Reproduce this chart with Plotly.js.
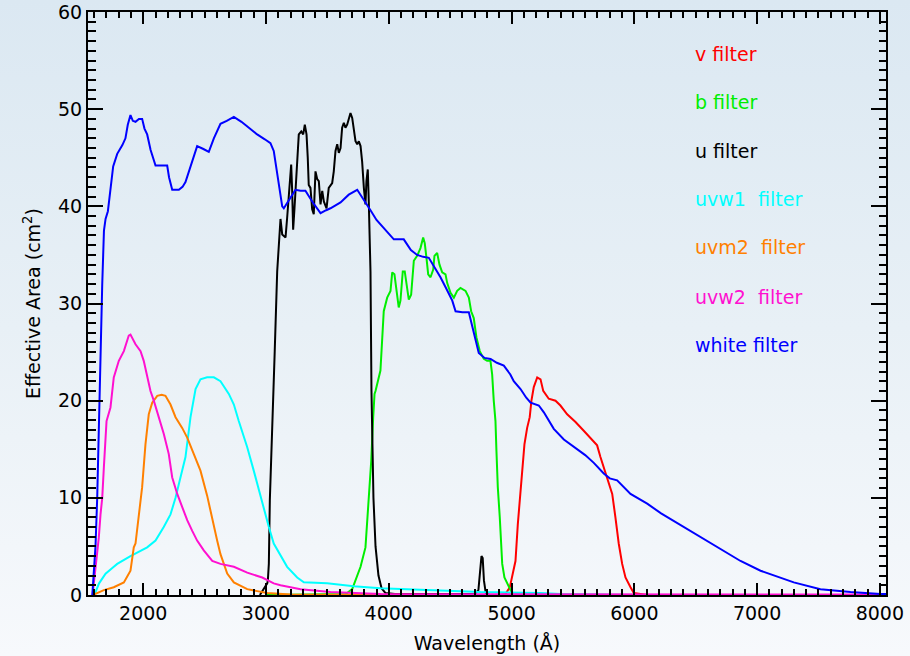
<!DOCTYPE html>
<html>
<head>
<meta charset="utf-8">
<script src="https://cdn.plot.ly/plotly-3.0.1.min.js"></script>
<style>
html,body{margin:0;padding:0;}
body{width:910px;height:656px;background:linear-gradient(to bottom,#dbe8f2 0%,#e8f0f6 50%,#f7f9fc 100%);}
#chart{width:910px;height:656px;}
.modebar-container,.modebar{display:none !important;}
</style>
</head>
<body>
<div id="chart"></div>
<script>
// ---- data (wavelength in Angstrom, effective area in cm^2) ----
const whiteWave = [1585,1597,1611,1625,1638,1652,1666,1680,1693,1712,1733,1755,1788,1830,1855,1874,1896,1915,1937,1965,1991,2010,2032,2060,2100,2150,2195,2210,2236,2290,2320,2344,2370,2399,2439,2490,2534,2575,2629,2680,2738,2800,2847,2928,2990,3036,3063,3091,3118,3132,3145,3170,3199,3240,3281,3321,3376,3444,3490,3525,3607,3674,3743,3780,3810,3851,3900,3959,4028,4041,4122,4180,4231,4280,4326,4370,4421,4470,4517,4544,4600,4652,4693,4733,4780,4829,4880,4937,4990,5018,5073,5120,5155,5190,5222,5263,5300,5344,5426,5535,5600,5670,5751,5800,5860,5969,6105,6218,6400,6600,6865,7028,7299,7516,7761,8005,8050];
const whiteArea = [0,2.8,5,10,17.9,25,32,37.5,38.7,39.5,41.9,44.1,45.4,46.3,47.0,48.4,49.4,48.8,48.7,49.0,49.0,48.0,47.4,45.8,44.2,44.2,44.2,43.0,41.7,41.7,42.0,42.5,43.5,44.7,46.2,45.9,45.6,47.0,48.5,48.8,49.2,48.7,48.2,47.4,46.9,46.5,45.7,43.3,41.2,40.0,39.8,40.3,40.9,41.7,41.6,41.6,40.5,39.3,39.6,39.8,40.4,41.2,41.7,41.0,40.5,39.6,38.6,37.8,36.8,36.6,36.6,35.5,35.0,34.8,34.7,33.8,32.7,31.5,30.3,29.2,29.1,29.1,26.8,24.9,24.4,24.3,23.9,23.6,22.7,22.0,21.2,20.3,19.8,19.6,19.5,18.8,18.0,17.1,16.0,15.0,14.4,13.6,12.5,12.0,11.8,10.4,9.4,8.4,7.0,5.5,3.5,2.5,1.3,0.6,0.3,0.1,0.1];

const uWave = [2950,3010,3015,3023,3031,3042,3050,3058,3071,3091,3104,3118,3132,3159,3172,3194,3205,3213,3221,3232,3240,3254,3267,3287,3303,3316,3330,3340,3348,3362,3376,3389,3403,3417,3430,3444,3458,3471,3493,3511,3539,3552,3566,3580,3593,3607,3620,3634,3647,3661,3674,3688,3702,3715,3729,3743,3756,3770,3783,3797,3810,3818,3829,3837,3845,3851,3859,3875,3892,3916,3941,3973,4050,4300,4600,4700,4730,4745,4755,4765,4775,4790,4820,5000];
const uArea = [0,1.2,1.5,3.2,9.7,14.5,18.3,22.0,25.1,33.3,35.7,38.7,37.1,36.8,38.8,42.8,44.3,41.6,37.6,39.8,41.6,45.3,47.4,47.7,47.4,48.4,47.4,45.0,42.2,41.9,39.7,39.2,43.6,42.8,42.6,40.2,41.6,40.5,39.8,41.9,42.4,43.6,45.7,46.4,45.5,46.0,48.1,48.6,48.1,48.4,48.9,49.6,49.1,47.9,46.7,46.4,46.7,46.2,44.6,41.9,40.2,42.6,43.8,40.5,37.5,33.3,21,10,5,2,0.7,0.2,0.1,0.1,0.1,0.1,0.5,2.5,4.0,3.8,1.5,0.2,0,0];

const bWave = [3000,3650,3702,3770,3810,3824,3837,3857,3873,3884,3892,3932,3959,3987,4014,4028,4046,4068,4081,4095,4114,4130,4150,4163,4182,4204,4231,4258,4280,4293,4307,4321,4340,4362,4372,4394,4413,4435,4462,4476,4503,4530,4557,4584,4625,4652,4671,4692,4714,4741,4774,4801,4828,4842,4855,4869,4877,4888,4904,4915,4924,4942,4977,5007,5100];
const bArea = [0,0.1,0.6,2.9,4.9,7.3,10.4,13.8,18.3,20.7,21.0,23.1,29.2,30.6,31.3,33.2,33.0,30.6,29.6,30.3,33.3,33.3,31.3,30.4,30.9,34.4,34.9,35.7,36.8,36.2,34.7,33.0,32.7,33.5,34.9,35.2,34.0,33.2,33.0,32.1,31.1,30.6,31.3,31.6,31.3,30.6,29.2,28.5,26.5,25.1,24.3,24.1,24.1,22.7,20.0,17.9,14.8,11.1,8.0,5.9,3.2,1.8,0.8,0.1,0];

const vWave = [4900,4950,4986,5005,5032,5051,5067,5087,5105,5127,5148,5162,5181,5209,5236,5258,5284,5303,5358,5398,5453,5521,5588,5657,5697,5724,5751,5779,5820,5846,5873,5901,5928,5969,5996,6105];
const vArea = [0,0.1,0.8,1.8,3.5,7.3,10.0,12.8,15.5,17.2,18.3,20.0,21.4,22.4,22.2,21.0,20.5,20.2,20.0,19.5,18.6,17.8,16.9,16.0,15.4,14.2,13.1,12.1,10.4,8.0,5.3,3.2,1.8,0.8,0.2,0];

const uvw1Wave = [1590,1611,1640,1693,1760,1788,1896,2004,2032,2100,2167,2222,2263,2303,2344,2385,2426,2466,2520,2575,2629,2697,2738,2778,2847,2900,2941,2982,3023,3063,3118,3172,3254,3308,3498,3715,3932,4340,4747,5236,5400,6000];
const uvw1Area = [0,0.3,1.2,2.2,2.9,3.2,4.0,4.7,4.9,5.6,7.0,8.3,10.0,12.1,14.2,18.3,21.2,22.2,22.4,22.4,22.0,20.7,19.6,17.9,15.2,12.8,10.8,8.8,7.0,5.3,4.1,2.9,1.8,1.3,1.2,0.9,0.7,0.5,0.3,0.2,0.1,0];

const uvm2Wave = [1590,1679,1760,1842,1896,1923,1937,1964,1991,2018,2045,2073,2114,2150,2181,2222,2263,2317,2358,2412,2466,2521,2562,2602,2629,2684,2738,2847,2928,3010,3200,4800];
const uvm2Area = [0,0.5,0.8,1.3,2.5,4.9,5.3,8.3,11.1,15.5,18.6,19.8,20.5,20.6,20.5,19.6,18.3,17.2,16.2,14.5,12.8,10.2,7.7,5.6,4.2,2.2,1.3,0.6,0.4,0.2,0.05,0];

const uvw2Wave = [1587,1597,1611,1625,1638,1652,1666,1679,1693,1701,1733,1760,1801,1842,1882,1896,1937,1978,2004,2032,2059,2086,2127,2167,2208,2236,2277,2317,2358,2399,2439,2493,2562,2629,2738,2847,2969,3063,3118,3281,3525,3932,8050];
const uvw2Area = [0,1.2,2.5,3.9,5.9,8.3,10.0,13.1,16.6,17.9,19.3,22.4,24.1,25.1,26.7,26.8,25.8,25.1,24.1,22.4,21.0,20.0,18.3,16.6,14.5,12.1,10.4,9.0,7.7,6.6,5.6,4.6,3.5,3.2,2.9,2.3,1.8,1.2,1.0,0.6,0.3,0.1,0.05];

const filterNames = ["v filter","b filter","u filter","uvw1\u00a0 filter","uvm2\u00a0 filter","uvw2\u00a0 filter","white filter"];
const filterColors = ["#ff0000","#00ee00","#000000","#00ffff","#ff8000","#ff10d0","#0000ff"];
const labelY = [55.7,50.7,45.7,40.8,35.8,30.7,25.7];

const xRange = [1550, 8050];
const yRange = [0, 60];

const series = [
  [vWave, vArea], [bWave, bArea], [uWave, uArea],
  [uvw1Wave, uvw1Area], [uvm2Wave, uvm2Area], [uvw2Wave, uvw2Area],
  [whiteWave, whiteArea]
];

const traces = series.map((s, i) => ({
  x: s[0], y: s[1], type: 'scatter', mode: 'lines',
  name: filterNames[i],
  line: {color: filterColors[i], width: 2},
  hoverinfo: 'skip'
}));

const annotations = filterNames.map((n, i) => ({
  text: n, x: 6480, y: labelY[i], xref: 'x', yref: 'y',
  xanchor: 'left', yanchor: 'middle', showarrow: false,
  font: {family: 'DejaVu Sans', size: 19, color: filterColors[i]}
}));

const axisFont = {family: 'DejaVu Sans', size: 19, color: '#000'};
const margin = {l: 88, r: 24, t: 12, b: 61};
const plotW = 910 - margin.l - margin.r;
const plotH = 656 - margin.t - margin.b;

const layout = {
  width: 910, height: 656,
  margin: margin,
  paper_bgcolor: 'rgba(0,0,0,0)',
  plot_bgcolor: 'rgba(0,0,0,0)',
  showlegend: false,
  xaxis: {
    range: xRange, dtick: 1000,
    ticks: 'inside', ticklen: 12, tickwidth: 1.5, tickcolor: '#000',
    showline: true, linecolor: '#000', linewidth: 2, mirror: true,
    showgrid: false, zeroline: false,
    tickfont: axisFont,
    title: {text: 'Wavelength (Å)', font: axisFont, standoff: 14}
  },
  yaxis: {
    range: yRange, dtick: 10,
    ticks: 'inside', ticklen: 15, tickwidth: 1.5, tickcolor: '#000',
    showline: true, linecolor: '#000', linewidth: 2, mirror: true,
    showgrid: false, zeroline: false,
    tickfont: axisFont,
    title: {text: 'Effective Area (cm<sup>2</sup>)', font: axisFont, standoff: 12}
  },
  annotations: annotations
};

// Tick marks on all four sides, drawn as short grid lines of thin strip subplots
// that share the main axis ranges (major and minor ticks, pointing inward).
const tickStrips = [
  {dir: 'x', side: 'bottom', dtick: 1000, len: 12},
  {dir: 'x', side: 'bottom', dtick: 100, len: 6},
  {dir: 'x', side: 'top', dtick: 1000, len: 12},
  {dir: 'x', side: 'top', dtick: 100, len: 6},
  {dir: 'y', side: 'left', dtick: 10, len: 15},
  {dir: 'y', side: 'left', dtick: 1, len: 7.5},
  {dir: 'y', side: 'right', dtick: 10, len: 15},
  {dir: 'y', side: 'right', dtick: 1, len: 7.5}
];

const hidden = {showgrid: false, showticklabels: false, ticks: '', showline: false, zeroline: false, range: [0, 1], fixedrange: true};

tickStrips.forEach((s, i) => {
  const k = i + 2;
  const gridAxis = {
    showgrid: true, gridcolor: '#000', gridwidth: 1.5, tick0: 0, dtick: s.dtick,
    showticklabels: false, ticks: '', showline: false, zeroline: false, fixedrange: true
  };
  if (s.dir === 'x') {
    const f = s.len / plotH;
    layout['xaxis' + k] = Object.assign({}, gridAxis, {range: xRange, domain: [0, 1], anchor: 'y' + k});
    layout['yaxis' + k] = Object.assign({}, hidden, {domain: s.side === 'bottom' ? [0, f] : [1 - f, 1], anchor: 'x' + k});
    traces.push({x: [xRange[0]], y: [0], xaxis: 'x' + k, yaxis: 'y' + k, type: 'scatter', mode: 'lines', opacity: 0, hoverinfo: 'skip', showlegend: false});
  } else {
    const f = s.len / plotW;
    layout['yaxis' + k] = Object.assign({}, gridAxis, {range: yRange, domain: [0, 1], anchor: 'x' + k});
    layout['xaxis' + k] = Object.assign({}, hidden, {domain: s.side === 'left' ? [0, f] : [1 - f, 1], anchor: 'y' + k});
    traces.push({x: [0], y: [yRange[0]], xaxis: 'x' + k, yaxis: 'y' + k, type: 'scatter', mode: 'lines', opacity: 0, hoverinfo: 'skip', showlegend: false});
  }
});

Plotly.newPlot('chart', traces, layout);
</script>
</body>
</html>
